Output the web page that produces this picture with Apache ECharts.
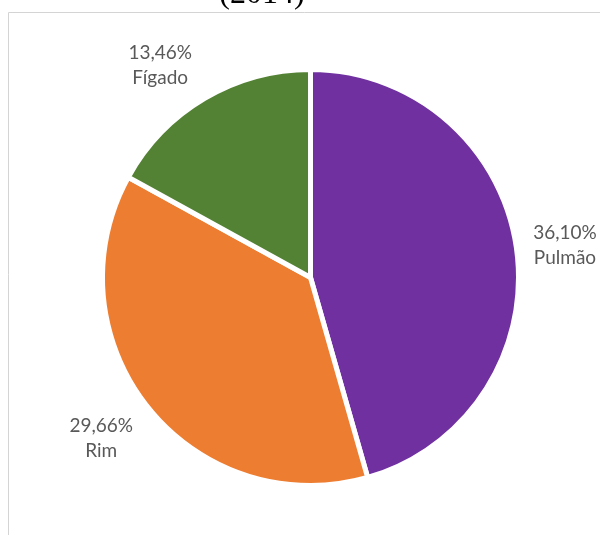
<!DOCTYPE html>
<html>
<head>
<meta charset="utf-8">
<script src="https://cdn.jsdelivr.net/npm/echarts@6/dist/echarts.min.js"></script>
<style>
  html, body { margin: 0; padding: 0; background: #fff; }
  #chart { width: 600px; height: 535px; }
</style>
</head>
<body>
<div id="chart"></div>
<script>
var categories = ['Pulmão', 'Rim', 'Fígado'];
var values = [36.10, 29.66, 13.46];
var colors = ['#7030A0', '#ED7D31', '#548235'];

var cx = 310.5, cy = 277.5, radius = 208;
var labelDist = 260;
// small nudges so the labels sit where the reference puts them
var labelShift = [[-3, 4], [-6, -1], [-18, 12]];

var total = 0;
for (var i = 0; i < values.length; i++) total += values[i];

// mid angle of each slice, clockwise from 12 o'clock
function midAngle(idx) {
    var acc = 0;
    for (var k = 0; k < idx; k++) acc += values[k];
    return (acc + values[idx] / 2) / total * Math.PI * 2;
}

var pieData = [];
for (var i = 0; i < categories.length; i++) {
    pieData.push({ name: categories[i], value: values[i], itemStyle: { color: colors[i] } });
}

var chart = echarts.init(document.getElementById('chart'));
var option = {
    animation: false,
    graphic: [
        {
            type: 'rect',
            shape: { x: 8.5, y: 12.5, width: 700, height: 700 },
            style: { fill: 'none', stroke: '#d4d4d4', lineWidth: 1 },
            z: -1
        },
        {
            type: 'text',
            x: 262, y: -5,
            style: {
                text: '(2014)',
                font: '32px "Liberation Serif", serif',
                fill: '#000',
                align: 'center',
                verticalAlign: 'middle'
            }
        }
    ],
    series: [{
        type: 'pie',
        center: [cx, cy],
        radius: radius,
        startAngle: 90,
        clockwise: true,
        itemStyle: { borderColor: '#fff', borderWidth: 5 },
        label: {
            show: true,
            position: 'outside',
            fontFamily: 'Lato',
            fontSize: 19,
            lineHeight: 25,
            color: '#595959',
            overflow: 'none',
            width: 90,
            align: 'center',
            edgeDistance: 0,
            formatter: function (p) {
                return p.value.toFixed(2).replace('.', ',') + '%\n' + p.name;
            }
        },
        labelLine: { show: false },
        labelLayout: function (p) {
            var a = midAngle(p.dataIndex);
            var s = labelShift[p.dataIndex];
            return {
                x: cx + labelDist * Math.sin(a) + s[0],
                y: cy - labelDist * Math.cos(a) + s[1],
                align: 'center',
                verticalAlign: 'middle'
            };
        },
        emphasis: { disabled: true },
        data: pieData
    }]
};
chart.setOption(option);
</script>
</body>
</html>
